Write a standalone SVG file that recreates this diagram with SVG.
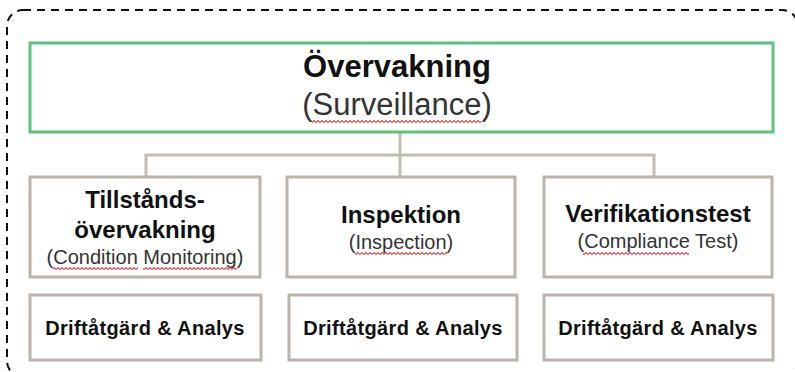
<svg xmlns="http://www.w3.org/2000/svg" width="795" height="372" viewBox="0 0 795 372">
<defs>
<style>
.box{fill:#fff;stroke:#bab4aa;stroke-width:3}
.top{fill:#fff;stroke:#5cc27c;stroke-width:3}
.conn{fill:none;stroke:#c2bcb3;stroke-width:3}
.b{font-family:"Liberation Sans",Arial,sans-serif;font-weight:bold;fill:#111;text-anchor:middle}
.r{font-family:"Liberation Sans",Arial,sans-serif;fill:#333;text-anchor:middle}
.d{letter-spacing:0.35px}
</style>
<pattern id="sq" width="4" height="3" patternUnits="userSpaceOnUse">
<path d="M0 2.5 L2 0.5 L4 2.5" fill="none" stroke="#e64848" stroke-width="1.1"/>
</pattern>
</defs>
<rect x="7" y="10" width="791" height="367" rx="16" fill="none" stroke="#111" stroke-width="2" stroke-dasharray="8 6"/>
<g id="connectors">
<line class="conn" x1="400" y1="132" x2="400" y2="155" stroke-width="5"/>
<path class="conn" d="M146 177 V155 H654 V177"/>
<line class="conn" x1="400" y1="155" x2="400" y2="177"/>
</g>
<g id="overvakning">
<rect class="top" x="30" y="43" width="743" height="89"/>
<text class="b" x="397" y="77" font-size="31">Övervakning</text>
<text class="r" x="397" y="115" font-size="31" fill="#222">(Surveillance)</text>
<rect x="312" y="120" width="169" height="3" fill="url(#sq)"/>
</g>
<g id="tillstand">
<rect class="box" x="30" y="177" width="230" height="100"/>
<text class="b" x="145" y="208" font-size="24">Tillstånds-</text>
<text class="b" x="145" y="238" font-size="24">övervakning</text>
<text class="r" x="145" y="264" font-size="20">(Condition Monitoring)</text>
<rect x="53" y="267" width="85" height="3" fill="url(#sq)"/>
<rect x="143" y="267" width="94" height="3" fill="url(#sq)"/>
</g>
<g id="inspektion">
<rect class="box" x="287" y="177" width="228" height="100"/>
<text class="b" x="401" y="223" font-size="24">Inspektion</text>
<text class="r" x="401" y="249" font-size="20">(Inspection)</text>
<rect x="355" y="252" width="92" height="3" fill="url(#sq)"/>
</g>
<g id="verifikation">
<rect class="box" x="544" y="177" width="228" height="100"/>
<text class="b" x="658" y="222" font-size="24">Verifikationstest</text>
<text class="r" x="658" y="248" font-size="20">(Compliance Test)</text>
<rect x="583" y="252" width="106" height="3" fill="url(#sq)"/>
</g>
<g id="drift1">
<rect class="box" x="30" y="295" width="231" height="65"/>
<text class="b d" x="145" y="335" font-size="20">Driftåtgärd &amp; Analys</text>
</g>
<g id="drift2">
<rect class="box" x="289" y="295" width="228" height="65"/>
<text class="b d" x="403" y="335" font-size="20">Driftåtgärd &amp; Analys</text>
</g>
<g id="drift3">
<rect class="box" x="544" y="295" width="229" height="65"/>
<text class="b d" x="658" y="335" font-size="20">Driftåtgärd &amp; Analys</text>
</g>
</svg>
